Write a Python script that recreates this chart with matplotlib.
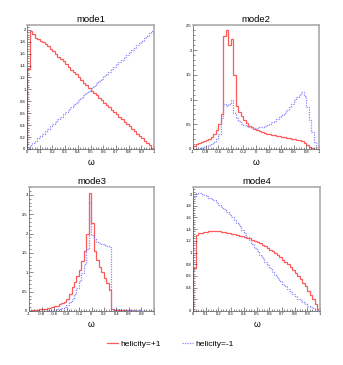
import numpy as np
import matplotlib
matplotlib.use("Agg")
import matplotlib.pyplot as plt
from matplotlib.ticker import MultipleLocator, FuncFormatter
from matplotlib.lines import Line2D

plt.rcParams['font.family'] = ['Liberation Sans', 'DejaVu Sans']
plt.rcParams['axes.unicode_minus'] = False

titles = ["mode1", "mode2", "mode3", "mode4"]
xlabel = "ω"
legend_labels = ["helicity=+1", "helicity=-1"]
x_ranges = [(0, 1), (-1, 1), (-1, 1), (0, 1)]
y_tops = [2.08, 2.51, 3.2, 2.12]

mode1_pos = [1.35, 1.98, 1.93, 1.87, 1.84, 1.82, 1.79, 1.76, 1.72, 1.68,
             1.64, 1.60, 1.55, 1.51, 1.47, 1.42, 1.38, 1.33, 1.29, 1.25,
             1.20, 1.16, 1.11, 1.07, 1.02, 0.98, 0.94, 0.90, 0.86, 0.82,
             0.78, 0.74, 0.70, 0.66, 0.62, 0.58, 0.54, 0.50, 0.46, 0.42,
             0.38, 0.34, 0.30, 0.26, 0.22, 0.18, 0.14, 0.10, 0.06, 0.02]
mode1_neg = [0.02, 0.06, 0.10, 0.14, 0.18, 0.22, 0.26, 0.30, 0.34, 0.38,
             0.42, 0.46, 0.50, 0.54, 0.58, 0.62, 0.66, 0.70, 0.74, 0.78,
             0.82, 0.86, 0.90, 0.94, 0.98, 1.02, 1.06, 1.10, 1.14, 1.18,
             1.22, 1.26, 1.30, 1.34, 1.38, 1.42, 1.46, 1.50, 1.54, 1.58,
             1.62, 1.66, 1.70, 1.74, 1.78, 1.82, 1.86, 1.90, 1.94, 1.98]

mode2_pos = [0.07, 0.10, 0.12, 0.14, 0.16, 0.18, 0.21, 0.25, 0.30, 0.38,
             0.50, 0.70, 2.28, 2.40, 2.10, 2.22, 1.50, 0.88, 0.75, 0.66,
             0.58, 0.52, 0.47, 0.44, 0.41, 0.38, 0.36, 0.34, 0.33, 0.31,
             0.30, 0.29, 0.28, 0.27, 0.26, 0.25, 0.24, 0.23, 0.22, 0.21,
             0.20, 0.19, 0.18, 0.16, 0.12, 0.08, 0.05, 0.03, 0.01, 0.00]
mode2_neg = [0.00, 0.01, 0.02, 0.03, 0.04, 0.06, 0.08, 0.10, 0.14, 0.20,
             0.30, 0.62, 0.92, 0.88, 0.92, 1.00, 0.72, 0.62, 0.56, 0.51,
             0.48, 0.46, 0.44, 0.43, 0.43, 0.43, 0.44, 0.45, 0.47, 0.49,
             0.51, 0.54, 0.57, 0.60, 0.64, 0.68, 0.73, 0.79, 0.86, 0.92,
             0.99, 1.05, 1.10, 1.15, 1.07, 0.85, 0.58, 0.35, 0.15, 0.05]

mode3_pos = [0.01, 0.02, 0.02, 0.03, 0.04, 0.05, 0.06, 0.07, 0.08, 0.10,
             0.12, 0.14, 0.17, 0.20, 0.24, 0.30, 0.45, 0.62, 0.75, 0.90,
             1.05, 1.30, 1.55, 1.98, 3.04, 2.26, 1.55, 1.32, 1.14, 1.01,
             0.85, 0.72, 0.55, 0.04, 0.03, 0.03, 0.03, 0.02, 0.02, 0.02,
             0.02, 0.01, 0.01, 0.01, 0.01, 0.01, 0.01, 0.01, 0.01, 0.01]
mode3_neg = [0.00, 0.00, 0.00, 0.01, 0.01, 0.01, 0.01, 0.02, 0.02, 0.02,
             0.03, 0.04, 0.06, 0.08, 0.11, 0.15, 0.22, 0.32, 0.45, 0.60,
             0.78, 0.98, 1.22, 1.60, 2.82, 1.95, 1.85, 1.78, 1.75, 1.73,
             1.70, 1.68, 1.66, 0.06, 0.05, 0.04, 0.04, 0.03, 0.03, 0.03,
             0.03, 0.02, 0.02, 0.02, 0.02, 0.01, 0.01, 0.01, 0.01, 0.01]

mode4_pos = [0.73, 1.30, 1.33, 1.34, 1.35, 1.35, 1.36, 1.36, 1.36, 1.36,
             1.36, 1.35, 1.35, 1.34, 1.33, 1.32, 1.31, 1.30, 1.29, 1.28,
             1.27, 1.25, 1.24, 1.22, 1.20, 1.18, 1.16, 1.13, 1.11, 1.08,
             1.05, 1.02, 0.99, 0.95, 0.92, 0.88, 0.84, 0.80, 0.75, 0.70,
             0.65, 0.60, 0.54, 0.48, 0.42, 0.35, 0.28, 0.20, 0.12, 0.04]
mode4_neg = [1.95, 2.01, 2.01, 2.00, 1.98, 1.96, 1.94, 1.92, 1.89, 1.86,
             1.82, 1.78, 1.74, 1.70, 1.65, 1.60, 1.55, 1.50, 1.45, 1.39,
             1.33, 1.27, 1.21, 1.14, 1.08, 1.02, 0.96, 0.90, 0.84, 0.78,
             0.73, 0.67, 0.62, 0.57, 0.52, 0.47, 0.42, 0.37, 0.33, 0.29,
             0.25, 0.21, 0.18, 0.15, 0.12, 0.09, 0.07, 0.05, 0.03, 0.01]

pos_series = [mode1_pos, mode2_pos, mode3_pos, mode4_pos]
neg_series = [mode1_neg, mode2_neg, mode3_neg, mode4_neg]

W, H = 343, 365
fig = plt.figure(figsize=(W / 100, H / 100), dpi=100)
fig.patch.set_facecolor('white')

# axes boxes in pixels: left, right, top, bottom
boxes = [(27, 154, 25, 149), (193, 319, 25, 149),
         (29, 154, 187, 311), (193, 320, 187, 311)]
x_major = [0.1, 0.2, 0.2, 0.1]
y_major = [0.2, 0.5, 0.5, 0.2]

RED = '#ff5a5a'
BLUE = '#8686ff'

def fmt(v, p):
    return '%g' % round(v, 6)

def fmt4(v, p):
    if abs(v - 0.2) < 1e-6:
        return ''
    return '%g' % round(v, 6)

for i in range(4):
    l, r, t, b = boxes[i]
    ax = fig.add_axes([l / W, 1 - b / H, (r - l) / W, (b - t) / H])
    n = len(pos_series[i])
    edges = np.linspace(x_ranges[i][0], x_ranges[i][1], n + 1)
    ax.stairs(pos_series[i], edges, color=RED, lw=0.9)
    ax.stairs(neg_series[i], edges, color=BLUE, lw=0.9, linestyle=(0, (1, 1)))
    ax.set_xlim(*x_ranges[i])
    ax.set_ylim(0, y_tops[i])
    ax.set_title(titles[i], fontsize=6.8, pad=2)
    ax.set_xlabel(xlabel, fontsize=6.2, labelpad=2.5)
    ax.xaxis.set_major_locator(MultipleLocator(x_major[i]))
    ax.xaxis.set_minor_locator(MultipleLocator(x_major[i] / 5))
    ax.yaxis.set_major_locator(MultipleLocator(y_major[i]))
    ax.yaxis.set_minor_locator(MultipleLocator(y_major[i] / 5))
    ax.xaxis.set_major_formatter(FuncFormatter(fmt))
    ax.yaxis.set_major_formatter(FuncFormatter(fmt4 if i == 3 else fmt))
    ax.tick_params(which='both', direction='in', labelsize=3.0, pad=1,
                   color='#333333', width=0.4, top=False, right=False)
    ax.tick_params(which='major', length=3)
    ax.tick_params(which='minor', length=1.5)
    for s in ['left', 'bottom']:
        ax.spines[s].set_color('#555555')
        ax.spines[s].set_linewidth(0.5)
    for s in ['top', 'right']:
        ax.spines[s].set_color('#aaaaaa')
        ax.spines[s].set_linewidth(1.2)

lh = [Line2D([], [], color=RED, lw=0.9),
      Line2D([], [], color=BLUE, lw=0.9, linestyle=(0, (1, 1)))]
fig.legend(lh, legend_labels, loc='center', bbox_to_anchor=(0.497, 1 - 344 / H),
           ncol=2, frameon=False, fontsize=6, handlelength=1.3,
           handletextpad=0.3, columnspacing=2.6)

fig.savefig('out.png', dpi=100, facecolor='white')
